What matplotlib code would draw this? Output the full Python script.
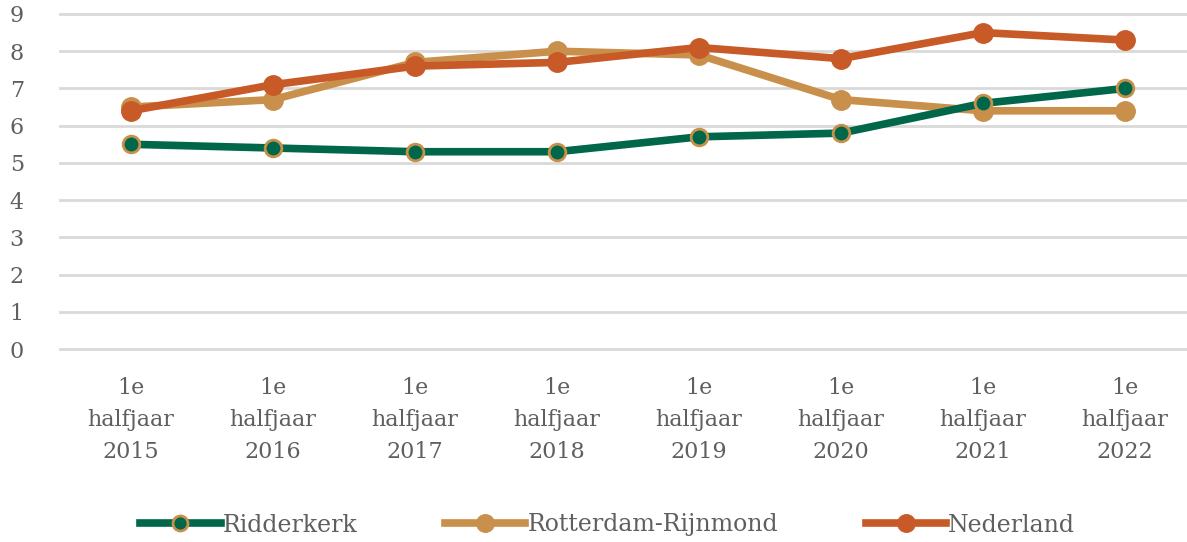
import matplotlib.pyplot as plt

years = ['2015', '2016', '2017', '2018', '2019', '2020', '2021', '2022']
ridderkerk = [5.5, 5.4, 5.3, 5.3, 5.7, 5.8, 6.6, 7.0]
rotterdam = [6.5, 6.7, 7.7, 8.0, 7.9, 6.7, 6.4, 6.4]
nederland = [6.4, 7.1, 7.6, 7.7, 8.1, 7.8, 8.5, 8.3]

green = '#00674A'
tan = '#C8904A'
orange = '#C85A28'
grey = '#5F5F5F'

plt.rcParams['font.family'] = ['DejaVu Serif']

fig = plt.figure(figsize=(11.87, 5.42), dpi=100)
ax = fig.add_axes([60/1187, 1 - 349/542, 1 - 60/1187, (349 - 14)/542])

x = range(len(years))
ax.plot(x, ridderkerk, color=green, lw=5.5, marker='o', ms=12,
        mfc=green, mec=tan, mew=2, label='Ridderkerk', zorder=3)
ax.plot(x, rotterdam, color=tan, lw=5.5, marker='o', ms=14,
        mfc=tan, mec=tan, label='Rotterdam-Rijnmond', zorder=2)
ax.plot(x, nederland, color=orange, lw=5.5, marker='o', ms=14,
        mfc=orange, mec=orange, label='Nederland', zorder=2)

ax.set_ylim(0, 9)
ax.set_yticks(range(10))
ax.set_xlim(-0.5, 7.5 - 9/142)
ax.set_xticks(list(x))
ax.set_xticklabels(['1e\nhalfjaar\n' + y for y in years], linespacing=1.6)
ax.grid(axis='y', color='#D9D9D9', lw=2)
for gl in ax.get_ygridlines():
    gl.set_clip_on(False)
ax.set_axisbelow(True)
for s in ax.spines.values():
    s.set_visible(False)
ax.tick_params(axis='both', length=0, labelsize=16, labelcolor=grey, colors=grey)
ax.tick_params(axis='y', pad=26)
ax.tick_params(axis='x', pad=20)

fig.legend(loc='center', bbox_to_anchor=(0.512, 1 - 525/542), ncol=3,
           frameon=False, fontsize=17, labelcolor=grey, handlelength=3.4,
           handletextpad=0.1, columnspacing=3.7, markerscale=0.9)

plt.savefig('out.png', dpi=100)
